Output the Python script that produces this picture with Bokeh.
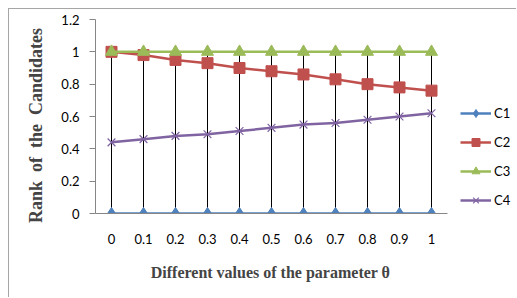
from bokeh.plotting import figure
from bokeh.models import Range1d, Legend, LegendItem, ColumnDataSource, FixedTicker
from bokeh.embed import file_html
from bokeh.resources import INLINE

theta = ["0", "0.1", "0.2", "0.3", "0.4", "0.5", "0.6", "0.7", "0.8", "0.9", "1"]
c1 = [0, 0, 0, 0, 0, 0, 0, 0, 0, 0, 0]
c2 = [1.0, 0.98, 0.95, 0.93, 0.90, 0.88, 0.86, 0.83, 0.80, 0.78, 0.76]
c3 = [1, 1, 1, 1, 1, 1, 1, 1, 1, 1, 1]
c4 = [0.44, 0.46, 0.48, 0.49, 0.51, 0.53, 0.55, 0.56, 0.58, 0.60, 0.62]
y_ticks = [0, 0.2, 0.4, 0.6, 0.8, 1.0, 1.2]
y_tick_labels = ["0", "0.2", "0.4", "0.6", "0.8", "1", "1.2"]
series_names = ["C1", "C2", "C3", "C4"]
series_colors = ["#4F81BD", "#C0504D", "#9BBB59", "#8064A2"]

# layout (pixels)
W, H = 508, 289
LEFT, TOP, BOTTOM = 86, 10, 85
CAT_W = 32  # pixel width of one category slot
n = len(theta)
xs = list(range(n))
frame_w = W - LEFT
x_end = -0.5 + frame_w / CAT_W

p = figure(width=W, height=H, x_range=Range1d(-0.5, x_end),
           y_range=Range1d(0, 1.2), output_backend="svg", toolbar_location=None,
           min_border_left=LEFT, min_border_top=TOP, min_border_right=0, min_border_bottom=BOTTOM)
p.styles = {"margin-left": "8px", "margin-top": "8px",
            "border-left": "1px solid #a6a6a6", "border-top": "1px solid #a6a6a6"}
p.outline_line_color = None
p.xgrid.grid_line_color = None
p.ygrid.grid_line_color = None
p.background_fill_color = "white"
p.border_fill_color = "white"

# drop lines from min to max at each category
lo = [min(v) for v in zip(c1, c2, c3, c4)]
hi = [max(v) for v in zip(c1, c2, c3, c4)]
p.segment(x0=xs, y0=lo, x1=xs, y1=hi, line_color="black", line_width=1)

src = ColumnDataSource(dict(x=xs, c1=c1, c2=c2, c3=c3, c4=c4))
items = []
markers = ["diamond", "square", "triangle", "x"]
sizes = [12, 11, 12, 11]
cols = ["c1", "c2", "c3", "c4"]
for name, col, color, m, s in zip(series_names, cols, series_colors, markers, sizes):
    ln = p.line("x", col, source=src, line_color=color, line_width=2.5)
    if m == "x":
        sc = p.scatter("x", col, source=src, marker=m, size=s, line_color=color, line_width=1.2)
    else:
        sc = p.scatter("x", col, source=src, marker=m, size=s,
                       fill_color=color, line_color=color)
    items.append(LegendItem(label=name, renderers=[ln, sc]))

legend = Legend(items=items, location=(n * CAT_W + 13, 3), orientation="vertical",
                glyph_width=31, glyph_height=20, label_height=20, spacing=9,
                padding=0, margin=0, label_standoff=3, border_line_color=None,
                background_fill_alpha=0, label_text_font="Lato",
                label_text_font_size="13px", label_text_color="#000000")
p.add_layout(legend, "center")

NB = "\u00a0"
ax_col = "#868686"
p.yaxis.ticker = FixedTicker(ticks=y_ticks)
p.yaxis.major_label_overrides = {t: l for t, l in zip(y_ticks, y_tick_labels)}
p.yaxis.axis_line_color = ax_col
p.yaxis.major_tick_line_color = ax_col
p.yaxis.major_tick_out = 6
p.yaxis.major_tick_in = 0
p.yaxis.minor_tick_line_color = None
p.yaxis.major_label_standoff = 10
p.yaxis.major_label_text_font = "Lato"
p.yaxis.major_label_text_font_size = "13px"
p.yaxis.major_label_text_color = "#000000"
p.yaxis.axis_label = "Rank" + NB * 2 + "of" + NB * 2 + "the" + NB * 2 + "Candidates" + NB * 4
p.yaxis.axis_label_text_font = "Liberation Serif"
p.yaxis.axis_label_text_font_style = "bold"
p.yaxis.axis_label_text_font_size = "18px"
p.yaxis.axis_label_standoff = 12

p.xaxis.ticker = FixedTicker(ticks=xs)
p.xaxis.major_label_overrides = {i: t for i, t in zip(xs, theta)}
p.xaxis.bounds = (-0.5, n - 0.5)
p.xaxis.axis_line_color = ax_col
p.xaxis.major_tick_line_color = None
p.xaxis.minor_tick_line_color = None
p.xaxis.major_tick_out = 0
p.xaxis.major_label_standoff = 20
p.xaxis.major_label_text_font = "Lato"
p.xaxis.major_label_text_font_size = "13px"
p.xaxis.major_label_text_color = "#000000"
p.xaxis.axis_label = "Different values of the parameter θ" + NB * 18
p.xaxis.axis_label_text_font = "Liberation Serif"
p.xaxis.axis_label_text_font_style = "bold"
p.xaxis.axis_label_text_font_size = "16px"
p.xaxis.axis_label_standoff = 17

open("out.html", "w").write(file_html(p, INLINE))
